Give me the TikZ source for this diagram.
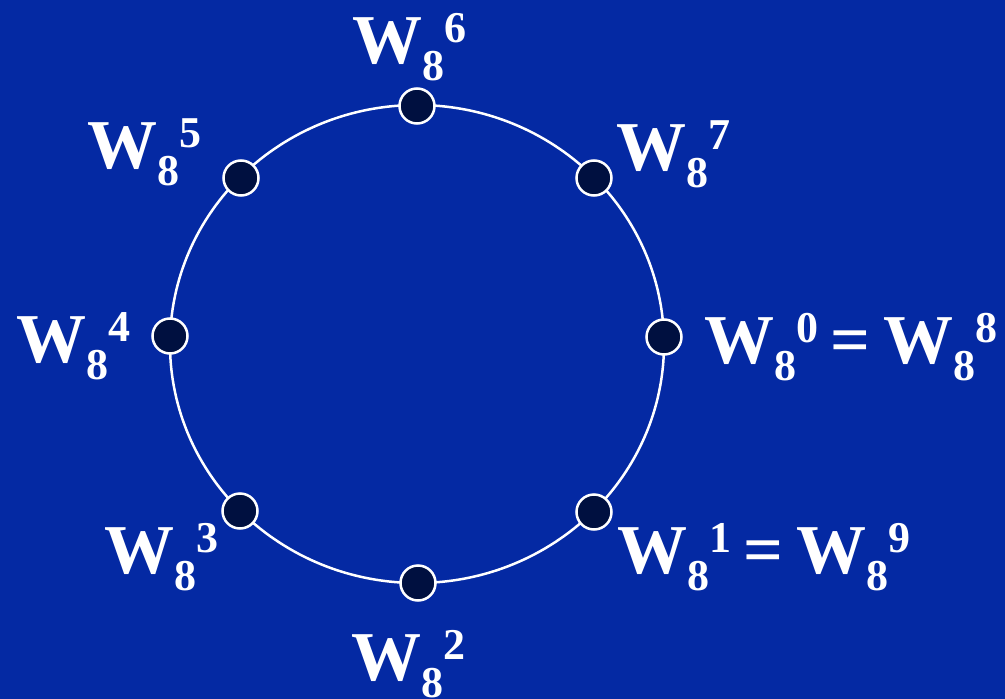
\documentclass[tikz,border=0pt]{standalone}
\usepackage{fontspec}
\setmainfont{Liberation Serif}
\usepackage{xcolor}
\usepackage{tikz}
\usetikzlibrary{positioning}

\definecolor{slideblue}{RGB}{4,41,163}
\definecolor{dotnavy}{RGB}{0,16,64}

\newcommand{\Wpow}[1]{W\raisebox{-17pt}{\fontsize{44}{50}\selectfont 8}\raisebox{21pt}{\fontsize{44}{50}\selectfont #1}}
\newcommand{\eqgap}{\hspace{12pt}=\hspace{13pt}}

\tikzset{
  root/.style={circle, draw=white, line width=2.5pt, fill=dotnavy, minimum size=35pt, inner sep=0pt},
  rootlabel/.style={anchor=base west, inner sep=0pt, text=white, font=\bfseries\fontsize{70}{84}\selectfont}
}

\begin{document}
\begin{tikzpicture}[x=1pt, y=-1pt]
  \fill[slideblue] (0, 0) rectangle (1005, 699);
  \useasboundingbox (0, 0) rectangle (1005, 699);
  % unit circle
  \draw[white, line width=2.5pt] (417, 344) ellipse [x radius=247, y radius=239];
  % roots of unity
  \node[root] (r0) at (664, 337) {};
  \node[root] (r1) at (594, 512) {};
  \node[root] (r2) at (418, 583) {};
  \node[root] (r3) at (240, 511) {};
  \node[root] (r4) at (170, 336) {};
  \node[root] (r5) at (241, 178) {};
  \node[root] (r6) at (417, 106) {};
  \node[root] (r7) at (594, 178) {};
  % labels
  \node[rootlabel] (l0) at (704, 363) {\Wpow{0}\eqgap\Wpow{8}};
  \node[rootlabel] (l1) at (617, 573) {\Wpow{1}\eqgap\Wpow{9}};
  \node[rootlabel] (l2) at (351, 680) {\Wpow{2}};
  \node[rootlabel] (l3) at (104, 573) {\Wpow{3}};
  \node[rootlabel] (l4) at (16, 362) {\Wpow{4}};
  \node[rootlabel] (l5) at (87, 168) {\Wpow{5}};
  \node[rootlabel] (l6) at (352, 63) {\Wpow{6}};
  \node[rootlabel] (l7) at (616, 170) {\Wpow{7}};
\end{tikzpicture}
\end{document}
